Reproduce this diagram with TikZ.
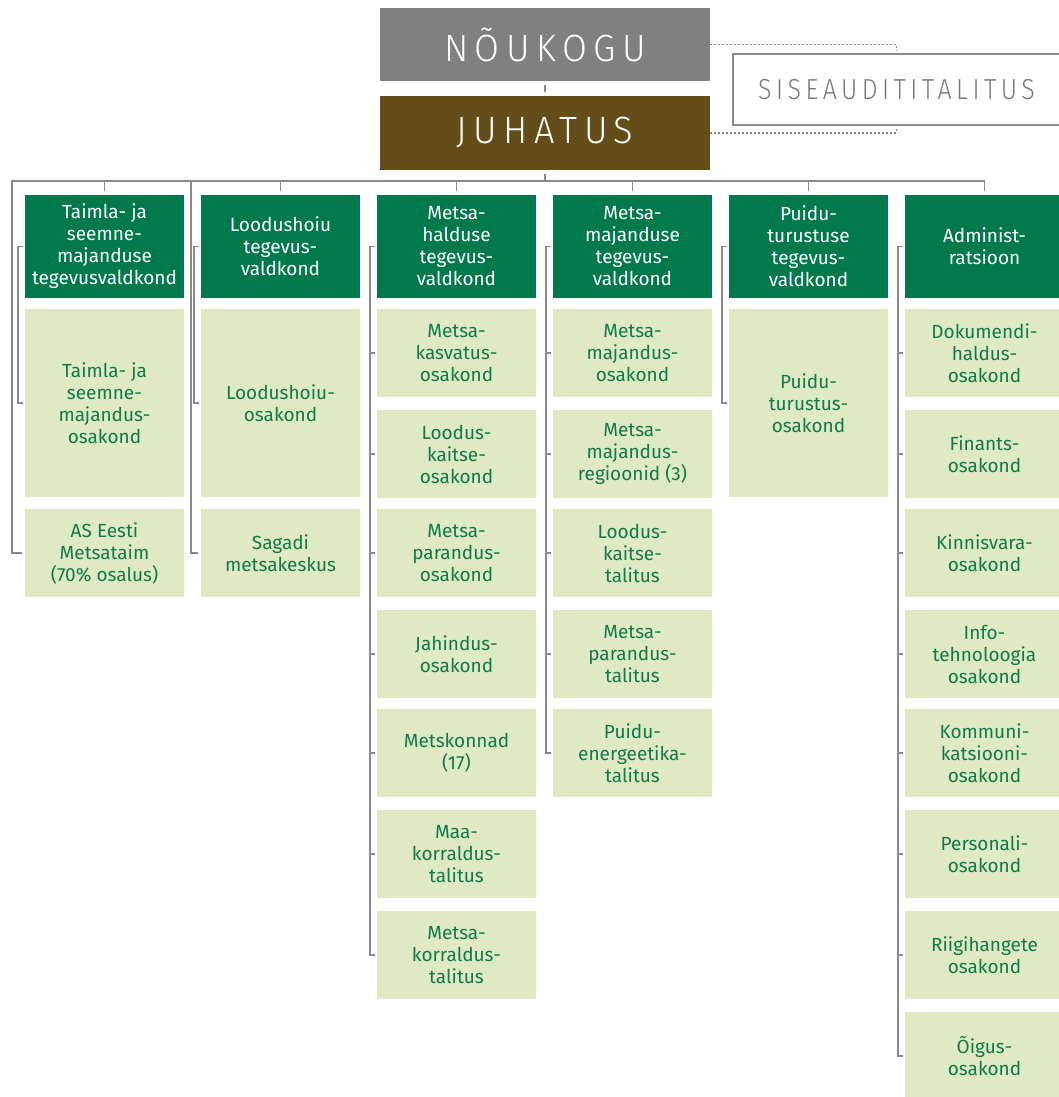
\documentclass[tikz,border=0pt]{standalone}
\usepackage{graphicx}
\usepackage{fontspec}
\setmainfont{Fira Sans}
\newfontfamily\titlefont[LetterSpace=18]{Fira Sans Light}
\definecolor{boardgray}{HTML}{808080}
\definecolor{boardbrown}{HTML}{654D1A}
\definecolor{headgreen}{HTML}{007A4C}
\definecolor{unitgreen}{HTML}{DFEAC4}
\definecolor{textgreen}{HTML}{107A48}
\definecolor{linegray}{HTML}{8A8A8A}
\definecolor{audgray}{HTML}{7A7A7A}
\newcommand{\bodyfont}{\fontsize{19}{22}\selectfont}

\tikzset{
  conn/.style={draw=linegray, line width=1.9pt},
  dots/.style={draw=linegray, line width=1.5pt, dash pattern=on 2pt off 2pt},
  boardbox/.style={minimum width=330pt, minimum height=73pt, inner sep=0pt, text=white, font=\titlefont\fontsize{38}{38}\selectfont},
  headbox/.style={fill=headgreen, text=white, minimum width=159pt, minimum height=103pt, inner sep=0pt, align=center, font=\bodyfont},
  unitbox/.style={fill=unitgreen, text=textgreen, minimum width=159pt, minimum height=88pt, inner sep=0pt, align=center, font=\bodyfont},
  bigbox/.style={unitbox, minimum height=188pt}
}

\begin{document}
\begin{tikzpicture}[x=1pt, y=-1pt]
\useasboundingbox (0,0) rectangle (1058,1097);

% board, management and internal audit
\node[boardbox, fill=boardgray] (noukogu) at (545,44.5) {\scalebox{0.95}[1]{NÕUKOGU}};
\node[boardbox, fill=boardbrown, minimum height=74pt] (juhatus) at (545,133) {\scalebox{0.95}[1]{JUHATUS}};
\node[draw=linegray, line width=1.5pt, minimum width=327pt, minimum height=71pt, inner sep=0pt, text=audgray,
      font=\titlefont\fontsize{29}{29}\selectfont] (siseaudit) at (896.5,89.5) {\scalebox{0.86}[1]{SISEAUDITITALITUS}};

% column headers
\node[headbox] (h1) at (104.5,246.5) {Taimla- ja\\seemne-\\majanduse\\tegevusvaldkond};
\node[headbox] (h2) at (280.5,246.5) {Loodushoiu\\tegevus-\\valdkond};
\node[headbox] (h3) at (456.5,246.5) {Metsa-\\halduse\\tegevus-\\valdkond};
\node[headbox] (h4) at (632.5,246.5) {Metsa-\\majanduse\\tegevus-\\valdkond};
\node[headbox] (h5) at (808.5,246.5) {Puidu-\\turustuse\\tegevus-\\valdkond};
\node[headbox] (h6) at (984.5,246.5) {Administ-\\ratsioon};

% units
\node[bigbox] (u11) at (104.5,403) {Taimla- ja\\seemne-\\majandus-\\osakond};
\node[unitbox] (u12) at (104.5,553) {AS Eesti\\Metsataim\\(70\% osalus)};

\node[bigbox] (u21) at (280.5,403) {Loodushoiu-\\osakond};
\node[unitbox] (u22) at (280.5,553) {Sagadi\\metsakeskus};

\node[unitbox] (u31) at (456.5,353) {Metsa-\\kasvatus-\\osakond};
\node[unitbox] (u32) at (456.5,454) {Loodus-\\kaitse-\\osakond};
\node[unitbox] (u33) at (456.5,553) {Metsa-\\parandus-\\osakond};
\node[unitbox] (u34) at (456.5,654) {Jahindus-\\osakond};
\node[unitbox] (u35) at (456.5,753) {Metskonnad\\(17)};
\node[unitbox] (u36) at (456.5,854) {Maa-\\korraldus-\\talitus};
\node[unitbox] (u37) at (456.5,955) {Metsa-\\korraldus-\\talitus};

\node[unitbox] (u41) at (632.5,353) {Metsa-\\majandus-\\osakond};
\node[unitbox] (u42) at (632.5,454) {Metsa-\\majandus-\\regioonid (3)};
\node[unitbox] (u43) at (632.5,553) {Loodus-\\kaitse-\\talitus};
\node[unitbox] (u44) at (632.5,654) {Metsa-\\parandus-\\talitus};
\node[unitbox] (u45) at (632.5,753) {Puidu-\\energeetika-\\talitus};

\node[bigbox] (u51) at (808.5,403) {Puidu-\\turustus-\\osakond};

\node[unitbox] (u61) at (984.5,353) {Dokumendi-\\haldus-\\osakond};
\node[unitbox] (u62) at (984.5,454) {Finants-\\osakond};
\node[unitbox] (u63) at (984.5,553) {Kinnisvara-\\osakond};
\node[unitbox] (u64) at (984.5,654) {Info-\\tehnoloogia\\osakond};
\node[unitbox] (u65) at (984.5,753) {Kommuni-\\katsiooni-\\osakond};
\node[unitbox] (u66) at (984.5,854) {Personali-\\osakond};
\node[unitbox] (u67) at (984.5,955) {Riigihangete\\osakond};
\node[unitbox] (u68) at (984.5,1056) {Õigus-\\osakond};

% top connectors
\draw[conn] ([yshift=-4pt]noukogu.south) -- ([yshift=4pt]juhatus.north);
\draw[dots] (noukogu.east) -| ([yshift=2pt]siseaudit.north);
\draw[dots] (juhatus.east) -| ([yshift=-2pt]siseaudit.south);

% bus
\coordinate (busL) at (12,181);
\coordinate (busB) at (191,181);
\draw[conn] ([yshift=-4pt]juhatus.south) -- (juhatus.south |- busL);
\draw[conn] (h6.north |- busL) -- (busL) |- ([xshift=-3pt]u12.west);
\draw[conn] (busB) |- ([xshift=-3pt]u22.west);
\draw[conn] (h1.north |- busL) -- ([yshift=4pt]h1.north);
\draw[conn] (h2.north |- busL) -- ([yshift=4pt]h2.north);
\draw[conn] (h3.north |- busL) -- ([yshift=4pt]h3.north);
\draw[conn] (h4.north |- busL) -- ([yshift=4pt]h4.north);
\draw[conn] (h5.north |- busL) -- ([yshift=4pt]h5.north);
\draw[conn] (h6.north |- busL) -- ([yshift=4pt]h6.north);

% brackets
\draw[conn] ([xshift=-2pt]h1.west) -- ++(-5pt,0) |- ([xshift=-2pt]u11.west);
\draw[conn] ([xshift=-2pt]h2.west) -- ++(-5pt,0) |- ([xshift=-2pt]u21.west);
\draw[conn] ([xshift=-2pt]h3.west) -- ++(-5pt,0) |- ([xshift=-2pt]u37.west);
\draw[conn] ([xshift=-2pt]u31.west) -- ++(-5pt,0);
\draw[conn] ([xshift=-2pt]u32.west) -- ++(-5pt,0);
\draw[conn] ([xshift=-2pt]u33.west) -- ++(-5pt,0);
\draw[conn] ([xshift=-2pt]u34.west) -- ++(-5pt,0);
\draw[conn] ([xshift=-2pt]u35.west) -- ++(-5pt,0);
\draw[conn] ([xshift=-2pt]u36.west) -- ++(-5pt,0);
\draw[conn] ([xshift=-2pt]h4.west) -- ++(-5pt,0) |- ([xshift=-2pt]u45.west);
\draw[conn] ([xshift=-2pt]u41.west) -- ++(-5pt,0);
\draw[conn] ([xshift=-2pt]u42.west) -- ++(-5pt,0);
\draw[conn] ([xshift=-2pt]u43.west) -- ++(-5pt,0);
\draw[conn] ([xshift=-2pt]u44.west) -- ++(-5pt,0);
\draw[conn] ([xshift=-2pt]h5.west) -- ++(-5pt,0) |- ([xshift=-2pt]u51.west);
\draw[conn] ([xshift=-2pt]h6.west) -- ++(-5pt,0) |- ([xshift=-2pt]u68.west);
\draw[conn] ([xshift=-2pt]u61.west) -- ++(-5pt,0);
\draw[conn] ([xshift=-2pt]u62.west) -- ++(-5pt,0);
\draw[conn] ([xshift=-2pt]u63.west) -- ++(-5pt,0);
\draw[conn] ([xshift=-2pt]u64.west) -- ++(-5pt,0);
\draw[conn] ([xshift=-2pt]u65.west) -- ++(-5pt,0);
\draw[conn] ([xshift=-2pt]u66.west) -- ++(-5pt,0);
\draw[conn] ([xshift=-2pt]u67.west) -- ++(-5pt,0);
\end{tikzpicture}
\end{document}
